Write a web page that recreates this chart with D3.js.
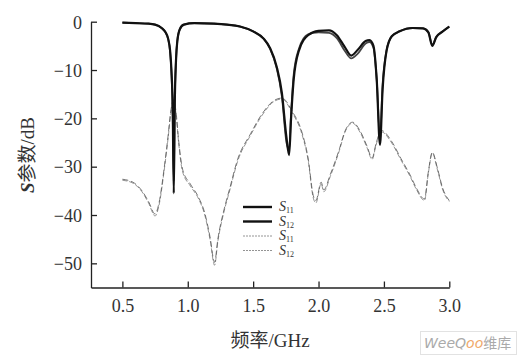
<!DOCTYPE html>
<html><head><meta charset="utf-8">
<script src="https://cdn.jsdelivr.net/npm/d3@7"></script>
<style>
html,body{margin:0;padding:0;background:#fff;}
svg{display:block;}
</style></head>
<body>
<svg id="c" width="526" height="360"></svg>
<script>
// ---- data ----
const xTicks = [0.5, 1.0, 1.5, 2.0, 2.5, 3.0];
const yTicks = [0, -10, -20, -30, -40, -50];
const legendLabels = ["11", "12", "11", "12"];

const s11SolidF = [0.5,0.6,0.7,0.75,0.8,0.83,0.85,0.865,0.875,0.885,0.893,0.90,0.91,0.92,0.94,0.97,1.05,1.2,1.3,1.4,1.5,1.58,1.63,1.68,1.72,1.755,1.775,1.79,1.81,1.85,1.92,2.0,2.08,2.14,2.2,2.25,2.3,2.36,2.39,2.42,2.445,2.47,2.49,2.52,2.56,2.62,2.72,2.8,2.84,2.87,2.9,2.95,3.0];
const s11SolidV = [-0.2,-0.3,-0.4,-0.6,-1.3,-2.2,-3.5,-6,-10,-18,-35.5,-18,-8,-4,-1.5,-0.6,-0.3,-0.4,-0.6,-1.0,-2.0,-3.5,-5.5,-9.3,-14.8,-24,-27.6,-20,-12,-6,-2.8,-1.9,-1.8,-2.8,-5.2,-7.0,-5.8,-4,-3.8,-5,-12,-25.5,-14,-6,-3,-2,-1.3,-1.4,-2.2,-5,-3.2,-2,-1.0];

const s12SolidF = [0.5,0.6,0.7,0.75,0.8,0.83,0.85,0.865,0.875,0.885,0.893,0.90,0.91,0.92,0.94,0.97,1.05,1.2,1.3,1.4,1.5,1.58,1.63,1.68,1.72,1.755,1.775,1.79,1.81,1.85,1.92,2.0,2.08,2.14,2.2,2.25,2.3,2.36,2.39,2.42,2.445,2.47,2.49,2.52,2.56,2.62,2.72,2.8,2.84,2.87,2.9,2.95,3.0];
const s12SolidV = [-0.2,-0.3,-0.4,-0.6,-1.3,-2.2,-3.6,-6.2,-10.5,-19,-33,-17,-8,-4,-1.5,-0.6,-0.3,-0.4,-0.6,-1.0,-2.0,-3.5,-5.6,-9.6,-15.5,-25,-26.5,-19,-11,-5.6,-2.6,-2.2,-2.3,-3.4,-6.0,-7.6,-6.6,-4.5,-4.2,-5.4,-12,-24,-13,-6,-3,-2,-1.3,-1.4,-2.2,-4.8,-3.2,-2,-1.0];

const s11DashF = [0.5,0.58,0.65,0.7,0.75,0.78,0.82,0.85,0.87,0.89,0.91,0.93,0.96,1.02,1.08,1.13,1.17,1.205,1.23,1.28,1.32,1.38,1.48,1.56,1.66,1.72,1.8,1.87,1.92,1.96,1.98,2.02,2.04,2.09,2.16,2.2,2.26,2.32,2.37,2.41,2.44,2.48,2.56,2.63,2.7,2.75,2.81,2.84,2.87,2.91,2.95,3.0];
const s11DashV = [-32.8,-33.4,-35.2,-37.5,-40.2,-38,-30.7,-24,-19,-16.5,-19,-25,-31,-34,-36.5,-40,-45,-50.4,-45.5,-39,-35,-29,-23.5,-19.7,-16.5,-16,-18.9,-23,-28.6,-36.5,-37.5,-33.5,-35.2,-32,-26.6,-23,-21,-23,-26,-28.5,-25.5,-22.8,-25.1,-28.6,-32,-34.8,-37,-31.3,-27.2,-30.7,-34.8,-37.2];

const s12DashF = [0.5,0.58,0.65,0.7,0.75,0.78,0.82,0.85,0.87,0.89,0.91,0.93,0.96,1.02,1.08,1.13,1.17,1.205,1.23,1.28,1.32,1.38,1.48,1.56,1.66,1.72,1.8,1.87,1.92,1.96,1.98,2.02,2.04,2.09,2.16,2.2,2.26,2.32,2.37,2.41,2.44,2.48,2.56,2.63,2.7,2.75,2.81,2.84,2.87,2.91,2.95,3.0];
const s12DashV = [-32.6,-33.2,-35.0,-37.2,-39.8,-37.5,-30.2,-23.5,-18.5,-16.2,-18.6,-24.5,-30.5,-33.6,-36.2,-39.6,-44.5,-49.8,-45,-38.6,-34.6,-28.6,-23.2,-19.4,-16.3,-15.8,-18.6,-22.6,-28.2,-36,-37,-33.2,-34.8,-31.6,-26.3,-22.8,-20.8,-22.7,-25.7,-28.2,-25.2,-22.5,-24.8,-28.3,-31.7,-34.5,-36.7,-31,-27,-30.4,-34.5,-37];

// ---- chart ----
const svg = d3.select("#c");
const x = d3.scaleLinear().domain([0.26, 3.0]).range([91, 449.3]);
const y = d3.scaleLinear().domain([-55, 0]).range([287.5, 21.7]);

const serif = "'Liberation Serif','DejaVu Serif',serif";

const xAxis = svg.append("g").attr("transform", `translate(0,${y(-55)})`)
  .call(d3.axisBottom(x).tickValues(xTicks).tickFormat(d3.format(".1f")).tickSize(-6).tickSizeOuter(0).tickPadding(12));
const yAxis = svg.append("g").attr("transform", `translate(${x(0.26)},0)`)
  .call(d3.axisLeft(y).tickValues(yTicks).tickFormat(d => d === 0 ? "0" : "\u2212" + Math.abs(d)).tickSize(-6).tickSizeOuter(0).tickPadding(9));

[xAxis, yAxis].forEach(g => {
  g.select(".domain").attr("stroke", "#222").attr("stroke-width", 1.3);
  g.selectAll(".tick line").attr("stroke", "#222").attr("stroke-width", 1.3);
  g.selectAll(".tick text").attr("font-family", serif).attr("font-size", 18).attr("fill", "#333");
});
yAxis.selectAll(".tick text").attr("dy", "0.35em");

// lines
const line = d3.line().x(d => x(d[0])).y(d => y(d[1])).curve(d3.curveMonotoneX);
const zip = (f, v) => f.map((ff, i) => [ff, v[i]]);

svg.append("path").datum(zip(s11DashF, s11DashV)).attr("d", line)
  .attr("fill", "none").attr("stroke", "#888").attr("stroke-width", 0.9).attr("stroke-dasharray", "5,2");
svg.append("path").datum(zip(s12DashF, s12DashV)).attr("d", line)
  .attr("fill", "none").attr("stroke", "#555").attr("stroke-width", 0.8).attr("stroke-dasharray", "6,3");
svg.append("path").datum(zip(s12SolidF, s12SolidV)).attr("d", line)
  .attr("fill", "none").attr("stroke", "#444").attr("stroke-width", 1.8);
svg.append("path").datum(zip(s11SolidF, s11SolidV)).attr("d", line)
  .attr("fill", "none").attr("stroke", "#111").attr("stroke-width", 2.2);

// legend
const legY = [207, 221.5, 236, 250.5];
const leg = svg.append("g");
legendLabels.forEach((lab, i) => {
  const solid = i < 2;
  leg.append("line").attr("x1", 243).attr("x2", 272).attr("y1", legY[i]).attr("y2", legY[i])
    .attr("stroke", solid ? "#111" : "#888").attr("stroke-width", solid ? 2.4 : 0.9)
    .attr("stroke-dasharray", solid ? null : "2,1");
  const t = leg.append("text").attr("x", 279).attr("y", legY[i] + 4)
    .attr("font-family", serif).attr("fill", "#333");
  t.append("tspan").attr("font-style", "italic").attr("font-size", 14).text("S");
  t.append("tspan").attr("font-size", 8).attr("dy", 2).text(lab);
});

// axis titles
svg.append("text").attr("x", 270).attr("y", 347).attr("text-anchor", "middle")
  .attr("font-family", "'Liberation Serif','Noto Sans CJK SC',serif").attr("font-size", 19).attr("fill", "#333")
  .text("频率/GHz");
const yt = svg.append("text").attr("transform", "translate(34,155) rotate(-90)").attr("text-anchor", "middle")
  .attr("font-family", "'Liberation Serif','Noto Sans CJK SC',serif").attr("font-size", 19).attr("fill", "#333");
yt.append("tspan").attr("font-style", "italic").attr("font-weight", "bold").text("S");
yt.append("tspan").text("参数/dB");

// watermark
const wm = svg.append("g");
wm.append("rect").attr("x", 420.5).attr("y", 331.5).attr("width", 96).attr("height", 23)
  .attr("fill", "#fff").attr("stroke", "#e2e2e2");
const wt = wm.append("text").attr("x", 424).attr("y", 348).attr("font-family", "'DejaVu Sans','Noto Sans CJK SC',sans-serif")
  .attr("font-size", 14).attr("fill", "#aaa");
wt.append("tspan").attr("font-style", "italic").text("WeeQ");
wt.append("tspan").attr("font-style", "italic").attr("fill", "#f0a868").text("oo");
wt.append("tspan").text("维库");
</script>
</body></html>
